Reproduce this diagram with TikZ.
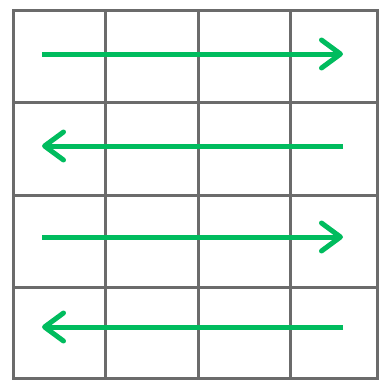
\documentclass[tikz,border=0pt]{standalone}
\usepackage{tikz}
\usetikzlibrary{arrows.meta}
\definecolor{arrowgreen}{RGB}{0,188,94}

\begin{document}
\begin{tikzpicture}[
  x=1pt, y=-1pt,
  gridline/.style={draw=black!58, line width=3pt, line cap=rect},
  arr/.style={draw=arrowgreen, line width=5pt, -{Straight Barb[length=19pt,width=28pt,round]}}
]
\useasboundingbox (0,0) rectangle (381,381);
% grid
\foreach \x in {13,105,198,290,377}
  \draw[gridline] (\x,10) -- (\x,378);
\foreach \y in {10,102,195,287,378}
  \draw[gridline] (13,\y) -- (377,\y);
% row ends
\foreach \r/\y in {1/54,2/146,3/237,4/327} {
  \coordinate (left\r) at (42,\y);
  \coordinate (right\r) at (343,\y);
}
\draw[arr] (left1) -- (right1);
\draw[arr] (right2) -- (left2);
\draw[arr] (left3) -- (right3);
\draw[arr] (right4) -- (left4);
\end{tikzpicture}
\end{document}
